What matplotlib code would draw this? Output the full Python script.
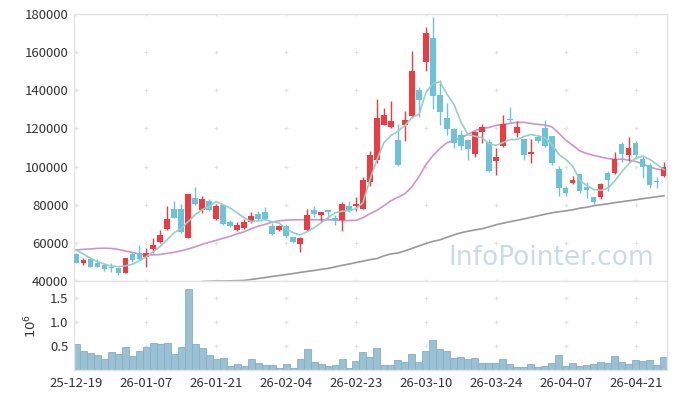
import numpy as np
import matplotlib
matplotlib.use("Agg")
import matplotlib.pyplot as plt

plt.rcParams["font.family"] = ["Noto Sans CJK KR", "DejaVu Sans"]

# daily candles, 85 trading days from 25-12-19 to 26-04-27
opens = [54200, 49600, 51400, 49300, 48300, 47500, 47000, 44400, 54200, 54600,
         52800, 56800, 60700, 67200, 77900, 77900, 62800, 83500, 77000, 82100,
         72500, 80000, 70700, 66500, 67800, 71200, 75300, 76000, 69000, 66500,
         68600, 63300, 59300, 66500, 77400, 74400, 77400, 73000, 71800, 79500,
         79100, 78000, 91700, 103700, 122000, 120700, 113700, 121600, 126500, 140000,
         154900, 167400, 137400, 125400, 119500, 116300, 113700, 106500, 118100, 113000,
         102800, 111000, 125100, 117400, 114600, 106700, 115600, 120400, 116000, 98800,
         88800, 91400, 96300, 89100, 83800, 83800, 96700, 96700, 112100, 106300,
         112500, 104000, 101000, 92600, 94900]
highs = [54500, 52300, 52600, 51400, 49400, 49400, 47000, 52000, 55400, 59000,
         57200, 62500, 66800, 79100, 81700, 80500, 85800, 89300, 84700, 82800,
         80500, 80000, 72100, 71200, 72600, 76000, 76600, 78800, 70400, 69500,
         70000, 63300, 63000, 77700, 79500, 76300, 77400, 74700, 81600, 81700,
         84000, 94600, 108000, 135600, 130900, 134200, 122100, 129100, 160700, 141700,
         173000, 178300, 145500, 133500, 120400, 119000, 114200, 118800, 122100, 114400,
         109600, 126800, 131400, 123700, 114600, 114600, 116600, 124400, 116000, 100200,
         90000, 94900, 96300, 91700, 83800, 91400, 97700, 107400, 112800, 115600,
         113300, 106000, 101800, 94600, 102300]
lows = [49300, 48300, 47200, 47200, 45300, 44800, 43000, 44400, 49800, 51000,
        47500, 54600, 59800, 66500, 73000, 65100, 62300, 80000, 75600, 76800,
        72000, 69500, 68200, 66000, 67200, 70400, 72000, 72100, 64000, 66000,
        62500, 59700, 55100, 66000, 73800, 71200, 72500, 69500, 66200, 76400,
        76500, 77700, 90000, 102000, 121600, 120400, 100500, 113300, 125600, 126200,
        150200, 130400, 121600, 116800, 109600, 108600, 103500, 105000, 112500, 97000,
        95700, 110400, 123000, 115600, 103700, 102000, 112500, 110400, 101000, 84400,
        84400, 91100, 86400, 83500, 80500, 83000, 87000, 96300, 102300, 102800,
        104000, 94000, 88800, 88600, 94600]
closes = [49600, 51000, 47500, 47500, 46500, 46800, 44000, 52000, 51000, 51600,
          54900, 58900, 64200, 72500, 73300, 65600, 85800, 80500, 83000, 77000,
          79100, 70000, 68600, 69500, 70700, 74200, 72500, 72600, 64800, 69000,
          63700, 60200, 62800, 74700, 75300, 76000, 76000, 71800, 80500, 76800,
          80500, 93200, 106300, 125300, 126800, 123700, 101000, 124200, 150000, 134700,
          170000, 137000, 128600, 119800, 112500, 110700, 109000, 118100, 120900, 97500,
          105100, 122100, 124200, 120900, 106300, 107900, 113300, 110700, 102000, 88800,
          86200, 93200, 87000, 87900, 81400, 91000, 93200, 104000, 106800, 109800,
          106300, 99800, 90500, 91700, 99800]

ma_short = [56300, 54200, 52100, 50300, 48900, 47900, 47500, 47900, 48700, 50500,
            52600, 55300, 58100, 61600, 65300, 67400, 71100, 74700, 77400, 78900,
            81700, 80000, 78300, 75800, 73200, 71200, 71600, 72100, 71100, 70400,
            67400, 65300, 64200, 65800, 67900, 70500, 73200, 75800, 76600, 76800,
            77900, 81100, 93200, 103700, 112600, 116300, 118600, 121600, 125800, 127400,
            138900, 143700, 144400, 137900, 132600, 123200, 116800, 115900, 115100, 112100,
            111100, 112600, 114200, 114200, 115800, 116800, 116100, 115100, 111600, 106300,
            103700, 100000, 92600, 90000, 87900, 87500, 88700, 92600, 97400, 101600,
            104600, 105400, 103700, 101100, 98400]
ma_mid = [56300, 56600, 56800, 57100, 57200, 57100, 56600, 55800, 55000, 54200,
          53700, 53700, 53900, 54500, 55000, 55800, 56800, 57900, 59200, 60300,
          61300, 62400, 63400, 64700, 65800, 67400, 68700, 69700, 70800, 71600,
          71900, 72100, 72100, 72100, 72100, 72100, 72100, 71900, 71700, 71700,
          71800, 73200, 75300, 77100, 79500, 82100, 83900, 85800, 89500, 94700,
          101100, 105800, 109500, 112500, 113700, 115300, 116800, 118900, 120000, 120500,
          121600, 122100, 122600, 123200, 123200, 122600, 122100, 121800, 120800, 117400,
          113700, 111100, 108200, 106800, 105800, 105000, 104200, 103700, 103900, 103400,
          102600, 101300, 99700, 98700, 98000]
nan = float("nan")
ma_long = [nan] * 18 + [
    39700, 39900, 40000, 40000, 40100, 40200, 40300, 40800, 41300, 41800,
    42400, 42900, 43400, 43900, 44500, 45000, 45500, 46100, 46600, 47400,
    48200, 48900, 49700, 50400, 51200, 51800, 53200, 54200, 54700, 55800,
    57100, 58400, 59700, 60800, 61600, 62900, 64200, 65300, 66100, 66800,
    67400, 68400, 69500, 70300, 71100, 71800, 72600, 73400, 74200, 75000,
    75800, 76300, 76800, 77400, 78200, 78700, 79500, 80000, 80500, 81100,
    81600, 82100, 82600, 83200, 83700, 84200, 84700]

volumes = [535000, 396000, 354000, 306000, 229000, 375000, 333000, 479000, 292000, 396000,
           479000, 563000, 542000, 563000, 333000, 479000, 1688000, 542000, 458000, 313000,
           229000, 250000, 83000, 125000, 83000, 229000, 146000, 104000, 104000, 42000,
           125000, 42000, 229000, 438000, 167000, 125000, 83000, 104000, 229000, 42000,
           188000, 375000, 271000, 458000, 104000, 104000, 208000, 167000, 333000, 167000,
           396000, 625000, 438000, 396000, 250000, 271000, 229000, 250000, 146000, 146000,
           146000, 229000, 125000, 63000, 63000, 125000, 63000, 83000, 146000, 313000,
           83000, 146000, 83000, 104000, 125000, 167000, 146000, 292000, 167000, 125000,
           208000, 188000, 208000, 104000, 271000]

tick_idx = [0, 10, 20, 30, 40, 50, 60, 70, 80]
tick_labels = ["25-12-19", "26-01-07", "26-01-21", "26-02-04", "26-02-23",
               "26-03-10", "26-03-24", "26-04-07", "26-04-21"]
price_ticks = [40000, 60000, 80000, 100000, 120000, 140000, 160000, 180000]
vol_ticks = [0.5, 1.0, 1.5]

UP = "#ef3a40"
DOWN = "#6cc2d8"
FRAME = "#e3e3e3"
TXT = "#333333"

fig = plt.figure(figsize=(6.77, 3.99), dpi=100)
ax = fig.add_axes([0.1093, 0.2957, 0.8759, 0.6692])
axv = fig.add_axes([0.1093, 0.0727, 0.8759, 0.2230], sharex=ax)

x = np.arange(len(opens))
o = np.array(opens)
c = np.array(closes)
up = c >= o
colors = np.where(up, UP, DOWN)
body_low = np.minimum(o, c)
body_h = np.maximum(np.abs(c - o), 400)

ax.vlines(x, lows, highs, colors=colors, lw=1.0, zorder=3)
ax.bar(x, body_h, bottom=body_low, width=0.72, color=colors, lw=0, zorder=4)

ax.plot(x, ma_long, color="#999999", lw=1.2, zorder=2)
ax.plot(x, ma_mid, color="#cf93ce", lw=1.2, zorder=2)
ax.plot(x, ma_short, color="#93d0c8", lw=1.2, zorder=5)

ax.set_xlim(-0.29, 84.43)
ax.set_ylim(40000, 180000)
ax.set_yticks(price_ticks)
ax.set_yticklabels([str(v) for v in price_ticks])
ax.tick_params(axis="y", length=0, pad=4, labelsize=9.5, labelcolor=TXT)
ax.tick_params(axis="x", length=0, labelbottom=False)
ax.set_xticks(tick_idx)

# grid drawn as small crosses at tick intersections
gx, gy = np.meshgrid(tick_idx, price_ticks)
ax.scatter(gx.ravel(), gy.ravel(), marker="+", s=12, color="#e2e2e2", lw=0.8, zorder=1)

axv.bar(x, np.array(volumes) / 1e6, width=1.0, color="#9bc0d2",
        edgecolor="#80b0cc", lw=0.6, zorder=2)
axv.set_ylim(0, 1.854)
axv.set_yticks(vol_ticks)
axv.set_yticklabels(["0.5", "1.0", "1.5"])
axv.set_xticks(tick_idx)
axv.set_xticklabels(tick_labels)
axv.tick_params(axis="both", length=0, labelsize=9.5, labelcolor=TXT)
axv.tick_params(axis="y", pad=4)
axv.tick_params(axis="x", pad=5)
gx, gy = np.meshgrid(tick_idx, vol_ticks)
axv.scatter(gx.ravel(), gy.ravel(), marker="+", s=12, color="#e2e2e2", lw=0.8, zorder=1)
axv.set_ylabel(r"$10^6$", color=TXT, fontsize=9.5, labelpad=8)

for a in (ax, axv):
    a.set_facecolor("white")
    for s in a.spines.values():
        s.set_color(FRAME)
        s.set_linewidth(1.0)

fig.text(0.814, 0.353, "InfoPointer.com", color="#c9dce6", fontsize=19,
         family="DejaVu Sans", ha="center", va="center", zorder=0)

fig.savefig("out.png", dpi=100, facecolor="white")
